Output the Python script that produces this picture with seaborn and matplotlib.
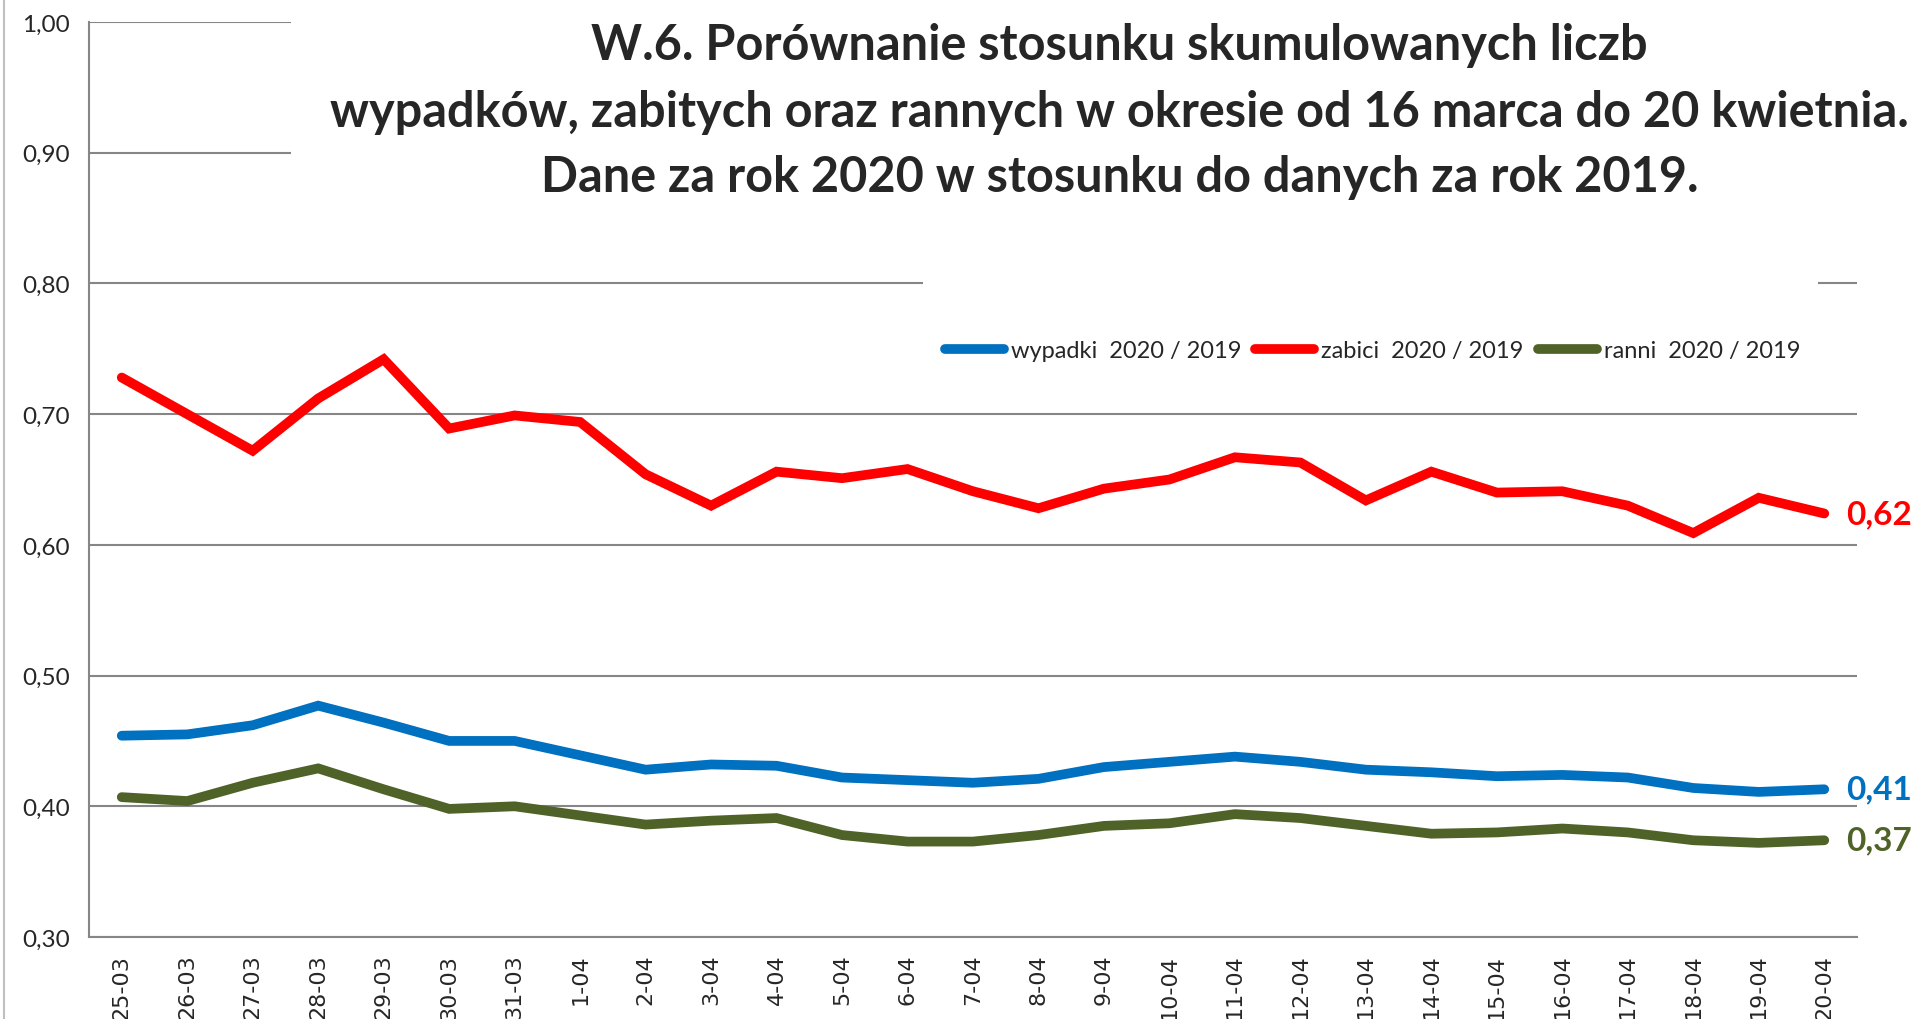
import pandas as pd
import matplotlib.pyplot as plt
import seaborn as sns
from matplotlib.patches import Rectangle
from matplotlib.lines import Line2D

# dni (oś X)
dni = ['25-03', '26-03', '27-03', '28-03', '29-03', '30-03', '31-03',
       '1-04', '2-04', '3-04', '4-04', '5-04', '6-04', '7-04', '8-04', '9-04',
       '10-04', '11-04', '12-04', '13-04', '14-04', '15-04', '16-04', '17-04',
       '18-04', '19-04', '20-04']

# stosunki 2020 / 2019
wypadki = [0.454, 0.455, 0.462, 0.477, 0.464, 0.450, 0.450, 0.439, 0.428,
           0.432, 0.431, 0.422, 0.420, 0.418, 0.421, 0.430, 0.434, 0.438,
           0.434, 0.428, 0.426, 0.423, 0.424, 0.422, 0.414, 0.411, 0.413]
zabici = [0.728, 0.700, 0.672, 0.712, 0.742, 0.689, 0.699, 0.694, 0.654,
          0.630, 0.656, 0.651, 0.658, 0.641, 0.628, 0.643, 0.650, 0.667,
          0.663, 0.634, 0.656, 0.640, 0.641, 0.630, 0.609, 0.636, 0.624]
ranni = [0.407, 0.404, 0.418, 0.429, 0.413, 0.398, 0.400, 0.393, 0.386,
         0.389, 0.391, 0.378, 0.373, 0.373, 0.378, 0.385, 0.387, 0.394,
         0.391, 0.385, 0.379, 0.380, 0.383, 0.380, 0.374, 0.372, 0.374]

serie = ['wypadki  2020 / 2019', 'zabici  2020 / 2019', 'ranni  2020 / 2019']
kolory = ['#0070C0', '#FF0000', '#4F6228']

title_lines = ['W.6. Porównanie stosunku skumulowanych liczb',
               'wypadków, zabitych oraz rannych w okresie od 16 marca do 20 kwietnia.',
               'Dane za rok 2020 w stosunku do danych za rok 2019.']

df = pd.DataFrame({'dzien': dni, serie[0]: wypadki, serie[1]: zabici, serie[2]: ranni})
long = df.melt(id_vars='dzien', var_name='seria', value_name='wartosc')

sns.set_style('white')
plt.rcParams['font.family'] = ['Lato', 'DejaVu Sans']

fig = plt.figure(figsize=(19.17, 10.2), dpi=100)
ax = fig.add_axes([89 / 1917, 82 / 1020, 1768 / 1917, 915 / 1020])

sns.lineplot(data=long, x='dzien', y='wartosc', hue='seria', hue_order=serie,
             palette=kolory, linewidth=7, sort=False, ax=ax, zorder=3,
             solid_capstyle='round', solid_joinstyle='miter')

ax.set_xlim(-0.5, len(dni) - 0.5)
ax.set_ylim(0.30, 1.00)
ax.set_yticks([0.3 + 0.1 * i for i in range(8)])
ax.set_yticklabels([f'{0.3 + 0.1 * i:.2f}'.replace('.', ',') for i in range(8)], fontsize=17.5)
ax.set_xticks(range(len(dni)))
ax.set_xticklabels(dni, rotation=90, fontsize=16, family='DejaVu Sans')
ax.set_xticks([i + 0.5 for i in range(-1, len(dni))], minor=True)
ax.tick_params(axis='x', which='major', length=0, pad=12)
ax.tick_params(axis='x', which='minor', length=8, width=1.5, color='#868686', direction='out')
ax.tick_params(axis='y', length=8, width=1.5, color='#868686', direction='out', pad=6)
ax.set_xlabel('')
ax.set_ylabel('')

ax.set_axisbelow(True)
ax.grid(axis='y', color='#868686', linewidth=1.5)
ax.grid(axis='x', visible=False)
for s in ['top', 'right']:
    ax.spines[s].set_visible(False)
for s in ['left', 'bottom']:
    ax.spines[s].set_color('#868686')
    ax.spines[s].set_linewidth(1.5)

# białe tła tytułu i legendy zasłaniają siatkę
ax.add_patch(Rectangle((0.114, 0.77), 0.95, 0.26, transform=ax.transAxes,
                       facecolor='white', edgecolor='none', zorder=1, clip_on=False))
ax.add_patch(Rectangle((0.472, 0.62), 0.506, 0.12, transform=ax.transAxes,
                       facecolor='white', edgecolor='none', zorder=1, clip_on=False))

# legenda
handles, labels = ax.get_legend_handles_labels()
ax.get_legend().remove()
leg = fig.legend(handles, labels, loc='center', bbox_to_anchor=(0.716, 0.655),
                 ncol=3, frameon=False, fontsize=17, handlelength=2.5,
                 columnspacing=0.6, handletextpad=0.3)
for h in leg.get_lines():
    h.set_linewidth(7)
    h.set_solid_capstyle('round')

# etykiety ostatnich wartości
for vals, kol in zip([zabici, wypadki, ranni], [kolory[1], kolory[0], kolory[2]]):
    ax.annotate(f'{vals[-1]:.2f}'.replace('.', ','), xy=(len(dni) - 1, vals[-1]),
                xytext=(16, 0), textcoords='offset points', va='center', ha='left',
                color=kol, fontsize=24, fontweight='bold', annotation_clip=False)

# tytuł
for line, y in zip(title_lines, [0.955, 0.890, 0.826]):
    fig.text(0.584, y, line, ha='center', va='center', fontsize=35,
             fontweight='bold', zorder=5)

# ramka wykresu po lewej
fig.add_artist(Line2D([4 / 1917, 4 / 1917], [0, 1], color='#BFBFBF', linewidth=1.5))

fig.savefig('out.png', dpi=100)
